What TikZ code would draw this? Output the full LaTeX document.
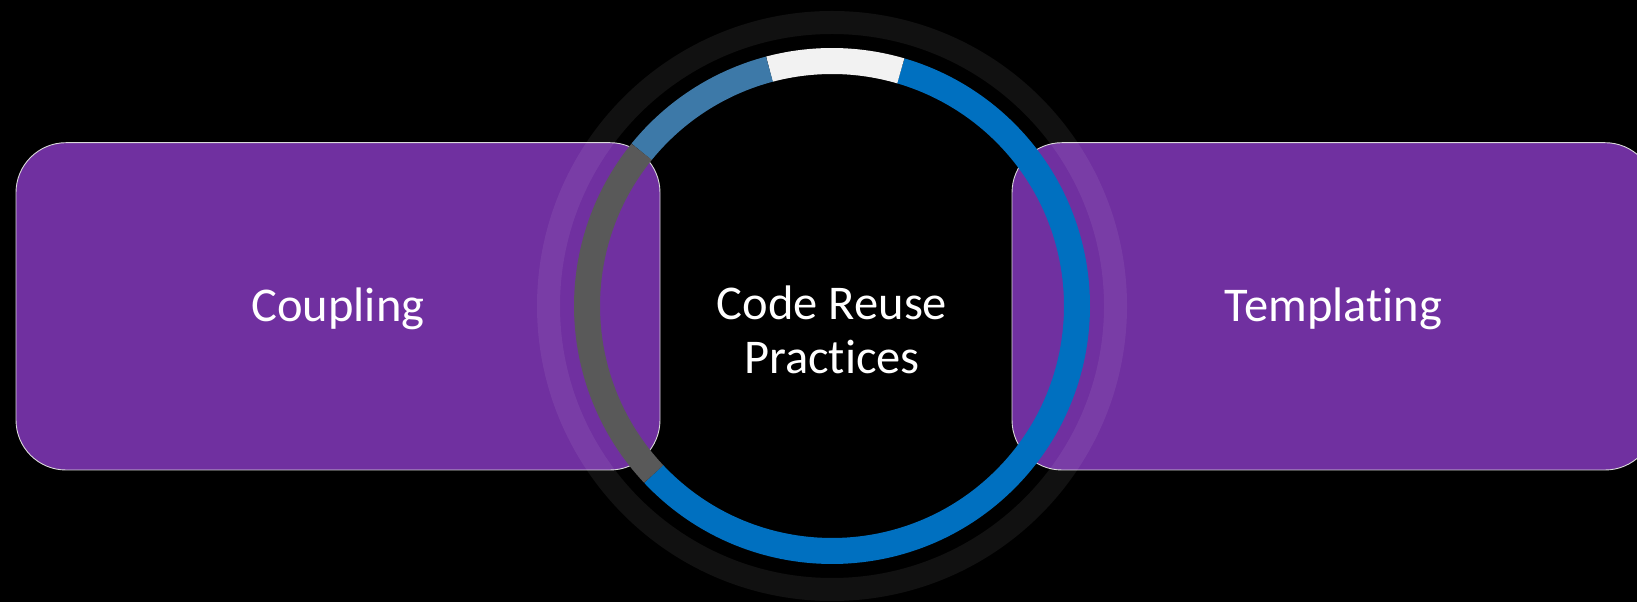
\documentclass[tikz,border=0pt]{standalone}
\usepackage{fontspec}
\setmainfont{Carlito}[Ligatures=NoCommon]
\definecolor{cardpurple}{HTML}{7030A0}
\definecolor{cardedge}{HTML}{D9D9D9}
\definecolor{segblue}{HTML}{0070C0}
\definecolor{segsteel}{HTML}{3D79A8}
\definecolor{seggrey}{HTML}{595959}
\definecolor{segwhite}{HTML}{F2F2F2}
\begin{document}
\begin{tikzpicture}[x=1pt,y=1pt,
  card/.style={rectangle, rounded corners=50pt, fill=cardpurple, draw=cardedge,
    line width=0.9pt, minimum width=#1, minimum height=327.3pt, inner sep=0pt,
    text=white, font=\fontsize{48.5}{54}\selectfont, text height=31pt, text depth=0pt},
  ringseg/.style={line width=26pt},
  halo/.style={draw=white, draw opacity=0.067, line width=23pt},
  hub/.style={text=white, font=\fontsize{48.5}{54}\selectfont, align=center, inner sep=0pt}]
  % canvas
  \fill[black] (0,0) rectangle (1637,602);
  \useasboundingbox (0,0) rectangle (1637,602);
  \clip (0,0) rectangle (1637,602);

  % side cards
  \node[card=644pt] (coupling) at (338,295.65) {Coupling};
  \node[card=643pt] (templating) at (1333.5,295.65) {Templating};

  % ring around the hub
  \coordinate (c) at (832,296);
  \path[halo] (c) circle[radius=283.5pt];
  \draw[ringseg, segblue]  ([shift={(223.3:245pt)}]c) arc[start angle=223.3, end angle=433.7, radius=245pt];
  \draw[ringseg, segwhite] ([shift={(73.7:245pt)}]c)  arc[start angle=73.7,  end angle=104.8, radius=245pt];
  \draw[ringseg, segsteel] ([shift={(104.8:245pt)}]c) arc[start angle=104.8, end angle=141,   radius=245pt];
  \draw[ringseg, seggrey]  ([shift={(141:245pt)}]c)   arc[start angle=141,   end angle=223.3, radius=245pt];

  % hub label (base anchor sits on the last line)
  \node[hub, anchor=base] (hub) at (832,228.7) {Code Reuse\\Practices};
\end{tikzpicture}
\end{document}
